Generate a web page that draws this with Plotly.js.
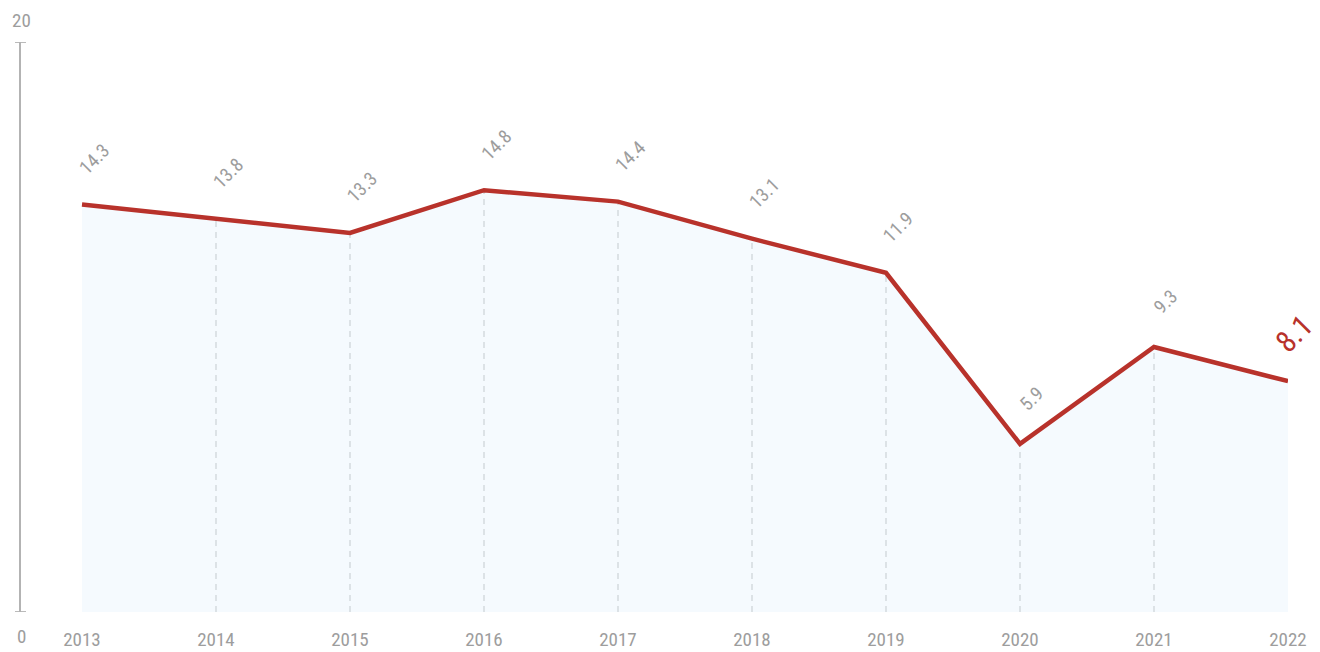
<!DOCTYPE html>
<html>
<head>
<meta charset="utf-8">
<script src="https://cdn.plot.ly/plotly-3.0.1.min.js"></script>
<style>html,body{margin:0;padding:0;background:#fff;}#chart{width:1320px;height:652px;}</style>
</head>
<body>
<div id="chart"></div>
<script>
const years = [2013, 2014, 2015, 2016, 2017, 2018, 2019, 2020, 2021, 2022];
const values = [14.3, 13.8, 13.3, 14.8, 14.4, 13.1, 11.9, 5.9, 9.3, 8.1];
const yTicks = [0, 20];

const FONT = "'Liberation Sans Narrow', 'Roboto Condensed', Roboto, sans-serif";
const RED = '#b8322b';
const GRAY = '#9d9d9d';
const AXIS = '#b3b3b3';

// drop lines from each inner point to zero
const dropX = [], dropY = [];
for (let i = 1; i < years.length - 1; i++) {
  dropX.push(years[i], years[i], null);
  dropY.push(0, values[i], null);
}

const traces = [
  {
    x: years, y: values, type: 'scatter', mode: 'none',
    fill: 'tozeroy', fillcolor: '#f5fafe', hoverinfo: 'skip', showlegend: false
  },
  {
    x: dropX, y: dropY, type: 'scatter', mode: 'lines',
    line: {color: '#dadfe4', width: 1.8, dash: '6px,5px'},
    hoverinfo: 'skip', showlegend: false, connectgaps: false
  },
  {
    x: years, y: values, type: 'scatter', mode: 'lines',
    line: {color: RED, width: 4.5}, hoverinfo: 'skip', showlegend: false
  }
];

const annotations = values.map((v, i) => {
  const last = i === values.length - 1;
  return {
    x: years[i], y: v, xref: 'x', yref: 'y',
    text: v.toFixed(1),
    showarrow: false, textangle: -45,
    xshift: last ? 6 : 12, yshift: last ? 48 : 45,
    font: {family: FONT, size: last ? 30 : 19, color: last ? RED : GRAY}
  };
});
yTicks.forEach(t => {
  annotations.push({
    x: 0, xref: 'paper', xanchor: 'center', y: t, yref: 'y', text: String(t), showarrow: false,
    yshift: t === 0 ? -24 : 22,
    font: {family: FONT, size: 19, color: GRAY}
  });
});

// T-shaped tick marks on the y axis line, one per y tick
const shapes = yTicks.map(t => ({
  type: 'line', xref: 'paper', xsizemode: 'pixel', xanchor: 0, x0: -6, x1: 5,
  yref: 'y', y0: t, y1: t, line: {color: AXIS, width: 1.8}
}));

const L = 21;
const layout = {
  width: 1320, height: 652,
  margin: {l: L, r: 32, t: 42, b: 40},
  paper_bgcolor: '#fff', plot_bgcolor: '#fff',
  showlegend: false,
  xaxis: {
    range: [2013 - (82 - L) / 134, 2022], tickvals: years, ticktext: years.map(String),
    showgrid: false, zeroline: false, showline: false,
    ticks: 'outside', ticklen: 10, tickcolor: 'rgba(0,0,0,0)',
    tickfont: {family: FONT, size: 19, color: GRAY}, fixedrange: true
  },
  yaxis: {
    range: [0, 20], tickvals: yTicks, showticklabels: false,
    showgrid: false, zeroline: false, showline: true, linecolor: AXIS, linewidth: 2,
    ticks: '', fixedrange: true
  },
  shapes: shapes,
  annotations: annotations
};

Plotly.newPlot('chart', traces, layout, {displayModeBar: false, staticPlot: true});
</script>
</body>
</html>
